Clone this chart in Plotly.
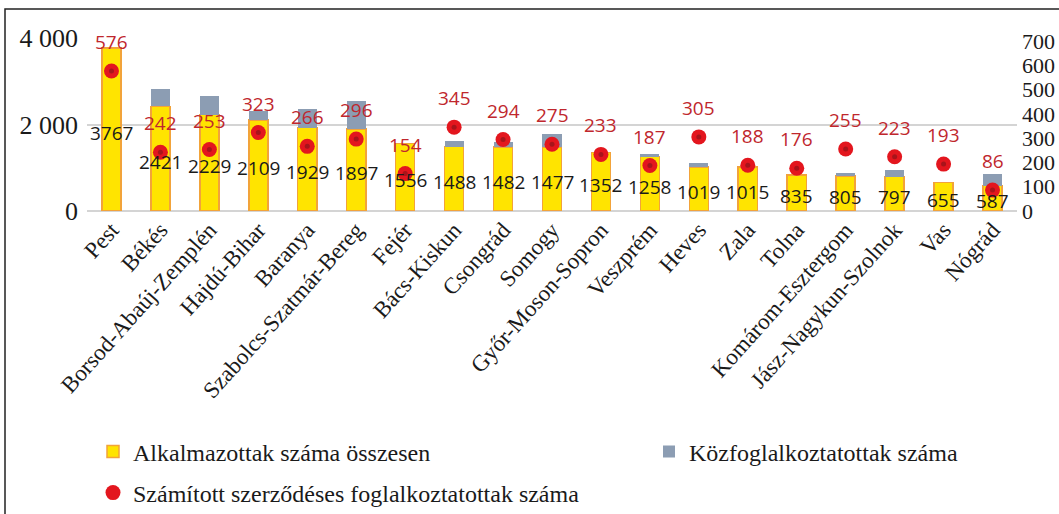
import plotly.graph_objects as go

counties = ["Pest", "Békés", "Borsod-Abaúj-Zemplén", "Hajdú-Bihar", "Baranya",
            "Szabolcs-Szatmár-Bereg", "Fejér", "Bács-Kiskun", "Csongrád", "Somogy",
            "Győr-Moson-Sopron", "Veszprém", "Heves", "Zala", "Tolna",
            "Komárom-Esztergom", "Jász-Nagykun-Szolnok", "Vas", "Nógrád"]
alkalmazottak = [3767, 2421, 2229, 2109, 1929, 1897, 1556, 1488, 1482, 1477,
                 1352, 1258, 1019, 1015, 835, 805, 797, 655, 587]
kozfoglalkoztatottak = [0, 400, 440, 200, 430, 640, 0, 140, 120, 300,
                        0, 50, 100, 0, 0, 75, 150, 0, 280]
szerzodeses = [576, 242, 253, 323, 266, 296, 154, 345, 294, 275,
               233, 187, 305, 188, 176, 255, 223, 193, 86]

left_ticks = [0, 2000, 4000]
left_ticktext = ["0", "2 000", "4 000"]
right_ticks = [0, 100, 200, 300, 400, 500, 600, 700]

W, H = 1059, 514
ML, MR, MT, MB = 87, 42, 38, 303
PW, PH = W - ML - MR, H - MT - MB

def px_x(p):
    return (p - ML) / PW

def px_y(p):
    return 1 - (p - MT) / PH

SERIF = "Liberation Serif, Times New Roman, serif"
SANS = "Open Sans"

fig = go.Figure()
fig.add_trace(go.Bar(
    x=counties, y=alkalmazottak, name="Alkalmazottak száma összesen",
    marker=dict(color="#FFE400", line=dict(color="#F2A33A", width=1.5)),
    width=0.39, legend="legend",
))
fig.add_trace(go.Bar(
    x=counties, y=kozfoglalkoztatottak, name="Közfoglalkoztatottak száma",
    marker=dict(color="#8C9DB3", line=dict(width=0)),
    width=0.39, legend="legend2",
))
fig.add_trace(go.Scatter(
    x=counties, y=szerzodeses, yaxis="y2", mode="markers",
    name="Számított szerződéses foglalkoztatottak száma",
    marker=dict(color="#E3161E", size=15, line=dict(width=0)),
    legend="legend3",
))
fig.add_trace(go.Scatter(
    x=counties, y=szerzodeses, yaxis="y2", mode="markers",
    marker=dict(color="#A8141B", size=5, line=dict(width=0)),
    showlegend=False, hoverinfo="skip",
))

annotations = []
for c, v in zip(counties, szerzodeses):
    annotations.append(dict(x=c, y=v, xref="x", yref="y2", text=str(v),
                            showarrow=False, yshift=29,
                            font=dict(family=SANS, size=19, color="#C0272D")))
for c, v in zip(counties, alkalmazottak):
    annotations.append(dict(x=c, y=v / 2, xref="x", yref="y", text=str(v),
                            showarrow=False, yshift=-3,
                            font=dict(family=SANS, size=19, color="#1A1A1A")))

legend_common = dict(orientation="h", xanchor="left", yanchor="middle",
                     font=dict(family=SERIF, size=24, color="#1A1A1A"),
                     bgcolor="rgba(0,0,0,0)")

fig.update_layout(
    width=W, height=H,
    margin=dict(l=ML, r=MR, t=MT, b=MB, autoexpand=False),
    paper_bgcolor="white", plot_bgcolor="white",
    barmode="stack",
    font=dict(family=SERIF, color="#1A1A1A"),
    xaxis=dict(type="category", range=[-0.5, len(counties) - 0.5], tickangle=-48,
               showgrid=False, showline=False, ticks="",
               tickfont=dict(family=SERIF, size=23)),
    yaxis=dict(range=[0, 4000], tickvals=left_ticks, ticktext=left_ticktext,
               showgrid=True, gridcolor="#D4D4D4", gridwidth=1.5,
               zeroline=True, zerolinecolor="#D4D4D4", zerolinewidth=1.5,
               showline=False, ticks="", ticklabelstandoff=8,
               tickfont=dict(family=SERIF, size=26)),
    yaxis2=dict(range=[0, 712], tickvals=right_ticks, overlaying="y", side="right",
                showgrid=False, zeroline=False, showline=False, ticks="",
                ticklabelstandoff=4,
                tickfont=dict(family=SERIF, size=22)),
    legend=dict(x=px_x(93), y=px_y(452), **legend_common),
    legend2=dict(x=px_x(649), y=px_y(452), **legend_common),
    legend3=dict(x=px_x(93), y=px_y(493), **legend_common),
    annotations=annotations,
    shapes=[dict(type="rect", xref="paper", yref="paper",
                 x0=px_x(5), x1=px_x(1075), y0=px_y(530), y1=px_y(9),
                 line=dict(color="#222222", width=1.5), fillcolor="rgba(0,0,0,0)",
                 layer="below")],
)

fig.write_html("out.html", config={"displayModeBar": False},
               post_script="document.body.style.margin='0px';document.body.style.overflow='hidden';")
